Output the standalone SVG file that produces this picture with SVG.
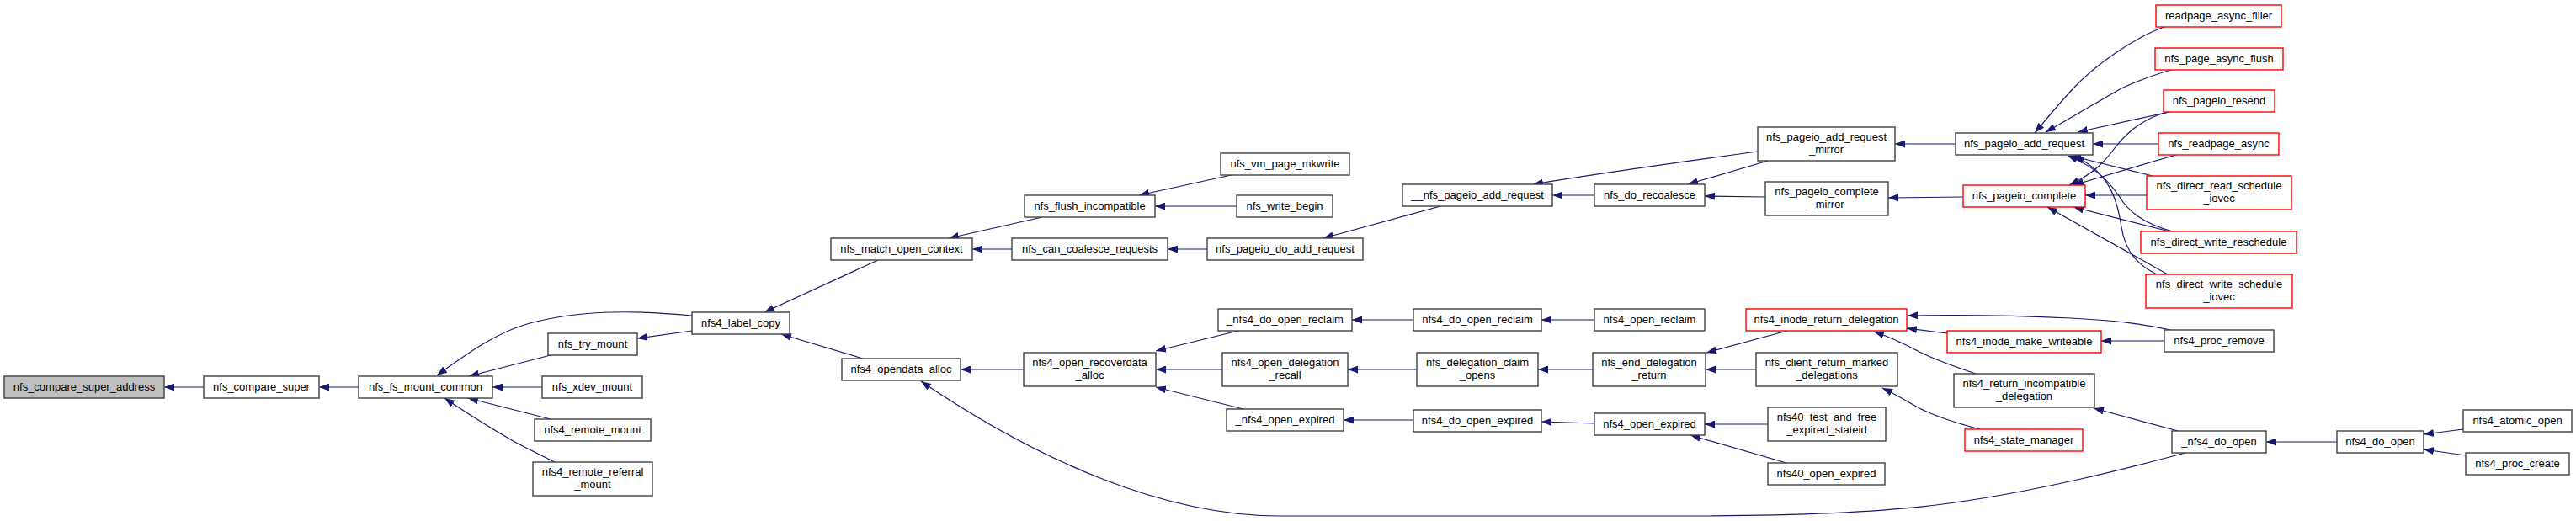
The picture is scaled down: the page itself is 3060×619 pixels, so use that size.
<svg xmlns="http://www.w3.org/2000/svg" width="3060" height="619" viewBox="0 0 3060 619">
<style>
.n rect{fill:#fff;stroke:#404040;stroke-width:1.4}
.n.r rect{stroke:#ff0000}
.n.g rect{fill:#bfbfbf}
text{font-family:"Liberation Sans",Arial,Helvetica,sans-serif;font-size:13px;text-anchor:middle;fill:#000}
#edges path{fill:none;stroke:#191970;stroke-width:1.2;marker-end:url(#a)}
</style>
<defs>
<marker id="a" markerUnits="userSpaceOnUse" markerWidth="12" markerHeight="9" refX="12" refY="4.5" orient="auto" viewBox="0 0 12 9"><path d="M0,0 L12,4.5 L0,9 z" fill="#191970"/></marker>
</defs>
<rect width="3060" height="619" fill="#fff"/>
<g id="edges">
<path d="M242,460 L195,460"/>
<path d="M426,460 L379,460"/>
<path d="M822,375 C760,369 690,367 626,385 C585,397 550,424 519,446"/>
<path d="M654,422 L557,447"/>
<path d="M644,460 L585,460"/>
<path d="M654,498 L556,473"/>
<path d="M659,549 C635,537 620,530 608,523 C580,507 555,491 528,473"/>
<path d="M822,393 L757,402"/>
<path d="M1043,309 L908,371"/>
<path d="M1025,426 L928,397"/>
<path d="M1238,258 L1127,283"/>
<path d="M1202,296 L1155,296"/>
<path d="M1467,207 L1353,232"/>
<path d="M1469,245 L1372,245"/>
<path d="M1434,296 L1387,296"/>
<path d="M1711,245 L1572,283"/>
<path d="M1894,232 L1844,232"/>
<path d="M2088,180 C2000,192 1900,206 1821,219"/>
<path d="M2100,191 L2005,219"/>
<path d="M2097,234 L2025,233"/>
<path d="M2323,171 L2251,171"/>
<path d="M2332,234 L2243,235"/>
<path d="M1216,439 L1141,439"/>
<path d="M2596,538 C2540,553 2420,585 2300,600 C2220,610 2120,613 2000,613 L1520,613 C1380,613 1230,545 1094,453"/>
<path d="M1475,392 L1373,417"/>
<path d="M1452,439 L1373,439"/>
<path d="M1477,486 L1373,460"/>
<path d="M1679,380 L1606,380"/>
<path d="M1894,380 L1831,380"/>
<path d="M1683,439 L1601,439"/>
<path d="M1892,439 L1827,439"/>
<path d="M1679,499 L1596,499"/>
<path d="M1894,503 L1831,501"/>
<path d="M2123,393 L2027,419"/>
<path d="M2086,439 L2026,439"/>
<path d="M2100,504 L2025,504"/>
<path d="M2122,550 L2008,517"/>
<path d="M2313,396 L2265,390"/>
<path d="M2347,444 C2320,435 2300,428 2280,418 C2265,410 2250,402 2226,394"/>
<path d="M2352,510 C2325,503 2300,495 2280,485 C2265,477 2255,470 2236,461"/>
<path d="M2578,392 C2550,386 2520,381 2460,378 C2400,375 2330,374 2266,375"/>
<path d="M2571,405 L2496,405"/>
<path d="M2587,512 L2487,485"/>
<path d="M2776,525 L2692,525"/>
<path d="M2926,510 L2879,516"/>
<path d="M2929,541 L2879,534"/>
<path d="M2574,31 C2540,42 2490,75 2460,108 C2440,130 2428,145 2417,158"/>
<path d="M2582,82 C2555,90 2535,98 2520,105 C2490,122 2460,140 2430,157"/>
<path d="M2577,133 L2468,157"/>
<path d="M2564,171 L2486,171"/>
<path d="M2557,209 L2460,185"/>
<path d="M2581,275 C2555,268 2535,258 2522,240 C2510,222 2495,200 2456,185"/>
<path d="M2562,326 C2540,315 2525,300 2520,270 C2515,235 2505,205 2464,185"/>
<path d="M2575,133 C2548,140 2528,155 2512,176 C2498,195 2485,207 2458,220"/>
<path d="M2588,183 L2463,220"/>
<path d="M2550,232 L2477,232"/>
<path d="M2577,275 L2463,246"/>
<path d="M2575,326 L2432,246"/>
</g>
<g id="n0" class="n g"><rect x="5" y="447" width="190" height="26"/><text x="100" y="464">nfs_compare_super_address</text></g>
<g id="n1" class="n"><rect x="242" y="447" width="137" height="26"/><text x="310.5" y="464">nfs_compare_super</text></g>
<g id="n2" class="n"><rect x="426" y="447" width="159" height="26"/><text x="505.5" y="464">nfs_fs_mount_common</text></g>
<g id="n3" class="n"><rect x="822" y="371" width="116" height="26"/><text x="880" y="388">nfs4_label_copy</text></g>
<g id="n4" class="n"><rect x="651" y="396" width="106" height="26"/><text x="704" y="413">nfs_try_mount</text></g>
<g id="n5" class="n"><rect x="644" y="447" width="119" height="26"/><text x="703.5" y="464">nfs_xdev_mount</text></g>
<g id="n6" class="n"><rect x="635" y="498" width="138" height="26"/><text x="704" y="515">nfs4_remote_mount</text></g>
<g id="n7" class="n"><rect x="633" y="549" width="142" height="40"/><text x="704" y="565">nfs4_remote_referral</text><text x="704" y="580">_mount</text></g>
<g id="n8" class="n"><rect x="987" y="283" width="168" height="26"/><text x="1071" y="300">nfs_match_open_context</text></g>
<g id="n9" class="n"><rect x="1000" y="426" width="141" height="26"/><text x="1070.5" y="443">nfs4_opendata_alloc</text></g>
<g id="n10" class="n"><rect x="1217" y="232" width="155" height="26"/><text x="1294.5" y="249">nfs_flush_incompatible</text></g>
<g id="n11" class="n"><rect x="1202" y="283" width="185" height="26"/><text x="1294.5" y="300">nfs_can_coalesce_requests</text></g>
<g id="n12" class="n"><rect x="1216" y="419" width="157" height="40"/><text x="1294.5" y="435">nfs4_open_recoverdata</text><text x="1294.5" y="450">_alloc</text></g>
<g id="n13" class="n"><rect x="1450" y="182" width="153" height="26"/><text x="1526.5" y="199">nfs_vm_page_mkwrite</text></g>
<g id="n14" class="n"><rect x="1469" y="232" width="114" height="26"/><text x="1526" y="249">nfs_write_begin</text></g>
<g id="n15" class="n"><rect x="1434" y="283" width="185" height="26"/><text x="1526.5" y="300">nfs_pageio_do_add_request</text></g>
<g id="n16" class="n"><rect x="1447" y="367" width="159" height="26"/><text x="1526.5" y="384">_nfs4_do_open_reclaim</text></g>
<g id="n17" class="n"><rect x="1452" y="419" width="149" height="40"/><text x="1526.5" y="435">nfs4_open_delegation</text><text x="1526.5" y="450">_recall</text></g>
<g id="n18" class="n"><rect x="1457" y="486" width="139" height="26"/><text x="1526.5" y="503">_nfs4_open_expired</text></g>
<g id="n19" class="n"><rect x="1666" y="219" width="178" height="26"/><text x="1755" y="236">__nfs_pageio_add_request</text></g>
<g id="n20" class="n"><rect x="1679" y="367" width="152" height="26"/><text x="1755" y="384">nfs4_do_open_reclaim</text></g>
<g id="n21" class="n"><rect x="1683" y="419" width="144" height="40"/><text x="1755" y="435">nfs_delegation_claim</text><text x="1755" y="450">_opens</text></g>
<g id="n22" class="n"><rect x="1679" y="487" width="152" height="26"/><text x="1755" y="504">nfs4_do_open_expired</text></g>
<g id="n23" class="n"><rect x="1894" y="219" width="131" height="26"/><text x="1959.5" y="236">nfs_do_recoalesce</text></g>
<g id="n24" class="n"><rect x="1894" y="367" width="131" height="26"/><text x="1959.5" y="384">nfs4_open_reclaim</text></g>
<g id="n25" class="n"><rect x="1892" y="419" width="134" height="40"/><text x="1959" y="435">nfs_end_delegation</text><text x="1959" y="450">_return</text></g>
<g id="n26" class="n"><rect x="1894" y="491" width="131" height="26"/><text x="1959.5" y="508">nfs4_open_expired</text></g>
<g id="n27" class="n"><rect x="2088" y="151" width="163" height="40"/><text x="2169.5" y="167">nfs_pageio_add_request</text><text x="2169.5" y="182">_mirror</text></g>
<g id="n28" class="n"><rect x="2097" y="216" width="146" height="40"/><text x="2170" y="232">nfs_pageio_complete</text><text x="2170" y="247">_mirror</text></g>
<g id="n29" class="n r"><rect x="2074" y="367" width="191" height="26"/><text x="2169.5" y="384">nfs4_inode_return_delegation</text></g>
<g id="n30" class="n"><rect x="2086" y="419" width="168" height="40"/><text x="2170" y="435">nfs_client_return_marked</text><text x="2170" y="450">_delegations</text></g>
<g id="n31" class="n"><rect x="2100" y="484" width="140" height="40"/><text x="2170" y="500">nfs40_test_and_free</text><text x="2170" y="515">_expired_stateid</text></g>
<g id="n32" class="n"><rect x="2100" y="550" width="139" height="26"/><text x="2169.5" y="567">nfs40_open_expired</text></g>
<g id="n33" class="n"><rect x="2323" y="158" width="163" height="26"/><text x="2404.5" y="175">nfs_pageio_add_request</text></g>
<g id="n34" class="n r"><rect x="2332" y="220" width="145" height="26"/><text x="2404.5" y="237">nfs_pageio_complete</text></g>
<g id="n35" class="n r"><rect x="2313" y="393" width="183" height="26"/><text x="2404.5" y="410">nfs4_inode_make_writeable</text></g>
<g id="n36" class="n"><rect x="2321" y="444" width="167" height="40"/><text x="2404.5" y="460">nfs4_return_incompatible</text><text x="2404.5" y="475">_delegation</text></g>
<g id="n37" class="n r"><rect x="2334" y="510" width="140" height="26"/><text x="2404" y="527">nfs4_state_manager</text></g>
<g id="n38" class="n r"><rect x="2561" y="6" width="149" height="26"/><text x="2635.5" y="23">readpage_async_filler</text></g>
<g id="n39" class="n r"><rect x="2560" y="57" width="152" height="26"/><text x="2636" y="74">nfs_page_async_flush</text></g>
<g id="n40" class="n r"><rect x="2570" y="107" width="132" height="26"/><text x="2636" y="124">nfs_pageio_resend</text></g>
<g id="n41" class="n r"><rect x="2564" y="158" width="143" height="26"/><text x="2635.5" y="175">nfs_readpage_async</text></g>
<g id="n42" class="n r"><rect x="2550" y="209" width="172" height="40"/><text x="2636" y="225">nfs_direct_read_schedule</text><text x="2636" y="240">_iovec</text></g>
<g id="n43" class="n r"><rect x="2543" y="275" width="185" height="26"/><text x="2635.5" y="292">nfs_direct_write_reschedule</text></g>
<g id="n44" class="n r"><rect x="2549" y="326" width="174" height="40"/><text x="2636" y="342">nfs_direct_write_schedule</text><text x="2636" y="357">_iovec</text></g>
<g id="n45" class="n"><rect x="2571" y="392" width="130" height="26"/><text x="2636" y="409">nfs4_proc_remove</text></g>
<g id="n46" class="n"><rect x="2580" y="512" width="112" height="26"/><text x="2636" y="529">_nfs4_do_open</text></g>
<g id="n47" class="n"><rect x="2776" y="512" width="103" height="26"/><text x="2827.5" y="529">nfs4_do_open</text></g>
<g id="n48" class="n"><rect x="2926" y="487" width="129" height="26"/><text x="2990.5" y="504">nfs4_atomic_open</text></g>
<g id="n49" class="n"><rect x="2929" y="538" width="123" height="26"/><text x="2990.5" y="555">nfs4_proc_create</text></g>
</svg>
